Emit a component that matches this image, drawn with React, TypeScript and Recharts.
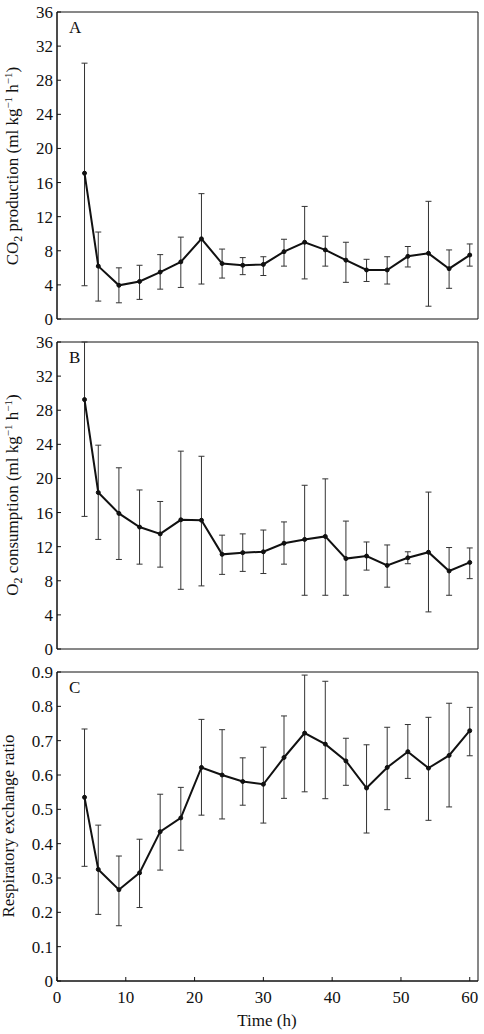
import React from 'react';
import { LineChart, Line, XAxis, YAxis, ErrorBar, ReferenceArea } from 'recharts';

// sampling times (h)
const times = [4, 6, 9, 12, 15, 18, 21, 24, 27, 30, 33, 36, 39, 42, 45, 48, 51, 54, 57, 60];

// CO2 production, mean and error-bar ends (ml kg-1 h-1)
const co2Mean = [17.1, 6.2, 3.95, 4.4, 5.5, 6.7, 9.4, 6.5, 6.3, 6.4, 7.9, 9.0, 8.1, 6.9, 5.75, 5.75, 7.35, 7.7, 5.9, 7.5];
const co2Upper = [30.0, 10.2, 6.0, 6.3, 7.55, 9.6, 14.7, 8.2, 7.2, 7.3, 9.35, 13.2, 9.7, 9.0, 7.0, 7.3, 8.5, 13.8, 8.1, 8.8];
const co2Lower = [3.9, 2.1, 1.9, 2.3, 3.5, 3.7, 4.1, 4.8, 5.2, 5.1, 6.2, 4.7, 6.2, 4.3, 4.4, 4.1, 6.1, 1.5, 3.6, 6.2];

// O2 consumption (ml kg-1 h-1); first upper end runs off the top of the axis
const o2Mean = [29.25, 18.35, 15.9, 14.3, 13.5, 15.15, 15.1, 11.1, 11.3, 11.4, 12.4, 12.85, 13.2, 10.6, 10.9, 9.8, 10.7, 11.35, 9.15, 10.15];
const o2Upper = [36, 23.9, 21.25, 18.65, 17.3, 23.2, 22.6, 13.35, 13.5, 13.95, 14.9, 19.2, 19.95, 15.0, 12.55, 12.2, 11.4, 18.4, 11.9, 11.85];
const o2Lower = [15.55, 12.85, 10.5, 9.95, 9.6, 7.0, 7.4, 8.75, 9.1, 8.85, 9.95, 6.3, 6.3, 6.3, 9.25, 7.25, 10.0, 4.35, 6.3, 8.25];

// respiratory exchange ratio
const rerMean = [0.535, 0.325, 0.266, 0.315, 0.435, 0.475, 0.622, 0.6, 0.581, 0.573, 0.651, 0.722, 0.69, 0.641, 0.562, 0.622, 0.668, 0.62, 0.657, 0.729];
const rerUpper = [0.734, 0.454, 0.364, 0.413, 0.544, 0.564, 0.762, 0.732, 0.65, 0.681, 0.772, 0.891, 0.873, 0.707, 0.688, 0.739, 0.747, 0.768, 0.809, 0.797];
const rerLower = [0.334, 0.194, 0.161, 0.214, 0.323, 0.381, 0.483, 0.472, 0.512, 0.46, 0.532, 0.551, 0.531, 0.57, 0.431, 0.499, 0.59, 0.468, 0.507, 0.656];

const timeTicks = [0, 10, 20, 30, 40, 50, 60];
const flowTicks = [0, 4, 8, 12, 16, 20, 24, 28, 32, 36];
const rerTicks = [0, 0.1, 0.2, 0.3, 0.4, 0.5, 0.6, 0.7, 0.8, 0.9];

const T_MAX = 61.2;
const FONT = '"Liberation Serif", "Times New Roman", serif';
const INK = '#111';
const tickStyle = { fontFamily: FONT, fontSize: 17, fill: INK };

const buildRows = (mean: number[], upper: number[], lower: number[]) =>
  times.map((t, i) => ({
    t,
    v: mean[i],
    err: [mean[i] - lower[i], upper[i] - mean[i]],
  }));

// rotated axis title with sub/superscripts
const UnitTitle = ({ x, y, species, sub, rest }: { x: number; y: number; species: string; sub: string; rest: string }) => (
  <text transform={`translate(${x},${y}) rotate(-90)`} textAnchor="middle" fontFamily={FONT} fontSize={17} fill={INK}>
    {species}
    <tspan dy={4} fontSize={12}>{sub}</tspan>
    <tspan dy={-4}>{` ${rest} (ml kg`}</tspan>
    <tspan dy={-6} fontSize={11}>{'\u22121'}</tspan>
    <tspan dy={6}> h</tspan>
    <tspan dy={-6} fontSize={11}>{'\u22121'}</tspan>
    <tspan dy={6}>)</tspan>
  </text>
);

interface PanelProps {
  top: number;
  height: number;
  letter: string;
  rows: { t: number; v: number; err: number[] }[];
  yMax: number;
  yTicks: number[];
  title: React.ReactNode;
  showTime?: boolean;
}

const Panel = ({ top, height, letter, rows, yMax, yTicks, title, showTime }: PanelProps) => (
  <div style={{ position: 'absolute', left: 0, top }}>
    <LineChart
      width={484}
      height={height}
      data={rows}
      margin={{ top: 12, right: 6, bottom: showTime ? 23 : 11, left: 0 }}
    >
      <XAxis
        dataKey="t"
        type="number"
        domain={[0, T_MAX]}
        ticks={timeTicks}
        allowDataOverflow
        height={showTime ? 30 : 0}
        stroke={INK}
        tickSize={-4}
        tickMargin={14}
        tick={showTime ? tickStyle : false}
      />
      <YAxis
        type="number"
        domain={[0, yMax]}
        ticks={yTicks}
        allowDataOverflow
        width={57}
        stroke={INK}
        tickSize={-4}
        tickMargin={8}
        tick={tickStyle}
        tickFormatter={(v: number) => (v === 0 ? '0' : yMax < 1 ? v.toFixed(1) : String(v))}
      />
      {/* box round the plotting area */}
      <ReferenceArea x1={0} x2={T_MAX} y1={0} y2={yMax} fill="none" fillOpacity={0} stroke={INK} strokeWidth={1} />
      <Line
        dataKey="v"
        stroke={INK}
        strokeWidth={2}
        dot={{ r: 2, fill: INK, stroke: INK, strokeWidth: 1 }}
        isAnimationActive={false}
      >
        <ErrorBar dataKey="err" direction="y" width={3} stroke="#333" strokeWidth={1} />
      </Line>
      <text x={69} y={33} fontFamily={FONT} fontSize={17} fill={INK}>{letter}</text>
      {title}
      {showTime && (
        <text x={267} y={height - 8} textAnchor="middle" fontFamily={FONT} fontSize={17} fill={INK}>Time (h)</text>
      )}
    </LineChart>
  </div>
);

export default function App() {
  return (
    <div style={{ position: 'absolute', left: 0, top: 0, width: 484, height: 1034, background: '#fff' }}>
      <Panel
        top={0}
        height={330}
        letter="A"
        rows={buildRows(co2Mean, co2Upper, co2Lower)}
        yMax={36}
        yTicks={flowTicks}
        title={<UnitTitle x={18} y={166} species="CO" sub="2" rest="production" />}
      />
      <Panel
        top={330}
        height={330}
        letter="B"
        rows={buildRows(o2Mean, o2Upper, o2Lower)}
        yMax={36}
        yTicks={flowTicks}
        title={<UnitTitle x={18} y={165} species="O" sub="2" rest="consumption" />}
      />
      <Panel
        top={660}
        height={374}
        letter="C"
        rows={buildRows(rerMean, rerUpper, rerLower)}
        yMax={0.9}
        yTicks={rerTicks}
        title={
          <text transform="translate(14,166) rotate(-90)" textAnchor="middle" fontFamily={FONT} fontSize={17} fill={INK}>
            Respiratory exchange ratio
          </text>
        }
        showTime
      />
    </div>
  );
}
